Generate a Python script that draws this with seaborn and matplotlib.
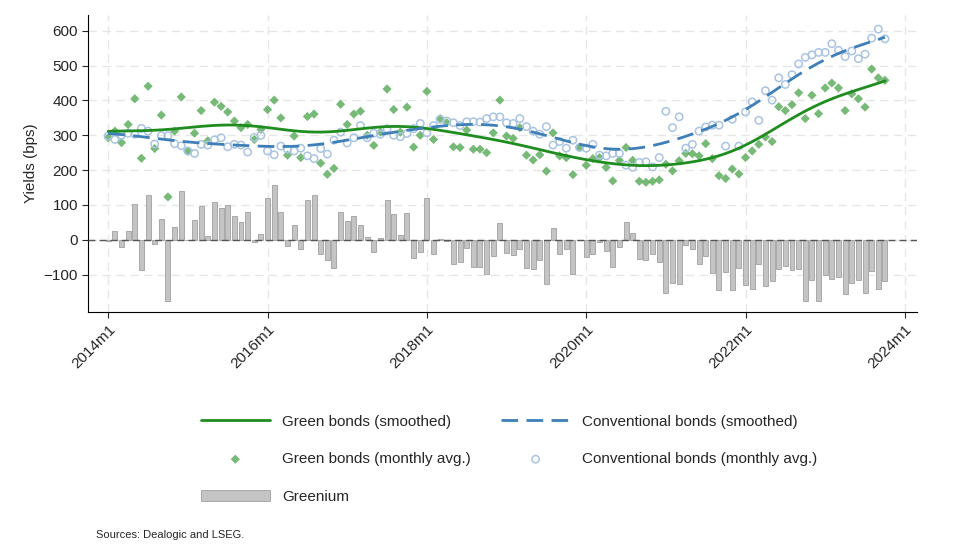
import matplotlib
matplotlib.use("Agg")
import matplotlib.pyplot as plt
import numpy as np
import pandas as pd
import seaborn as sns

# Monthly averages (bps), 2014m1 .. 2023m10
green = [293, 312, 279, 331, 405, 234, 441, 262, 358, 123, 312, 410, 254, 306, 371, 284,
         395, 383, 367, 341, 322, 331, 288, 317, 374, 401, 350, 243, 298, 236, 354, 361,
         220, 188, 205, 389, 331, 361, 369, 300, 271, 309, 433, 374, 309, 381, 266, 300,
         426, 288, 348, 336, 267, 265, 315, 260, 260, 250, 307, 401, 298, 291, 322, 243,
         229, 244, 197, 307, 241, 236, 187, 265, 214, 233, 236, 208, 169, 228, 265, 228,
         168, 165, 168, 172, 217, 198, 227, 248, 247, 241, 276, 233, 184, 176, 203, 189,
         236, 255, 274, 295, 282, 382, 371, 388, 422, 348, 415, 362, 436, 450, 436, 371,
         419, 405, 381, 490, 465, 458]
conventional = [298, 288, 300, 306, 303, 320, 312, 275, 299, 299, 276, 270, 255, 248, 274, 272,
                287, 293, 267, 274, 272, 252, 294, 300, 255, 244, 269, 260, 255, 263, 241, 233,
                262, 246, 286, 309, 278, 293, 328, 293, 306, 303, 319, 300, 296, 305, 319, 334,
                307, 328, 346, 341, 336, 328, 339, 339, 338, 348, 353, 353, 336, 334, 348, 325,
                312, 303, 325, 272, 282, 263, 286, 265, 263, 274, 243, 241, 248, 248, 214, 208,
                222, 224, 209, 236, 369, 322, 353, 263, 274, 312, 324, 329, 329, 269, 346, 269,
                367, 396, 343, 428, 401, 465, 446, 474, 505, 524, 531, 538, 538, 563, 544, 526,
                542, 520, 533, 579, 605, 577]
tick_pos = [0, 24, 48, 72, 96, 120]
tick_labels = ["2014m1", "2016m1", "2018m1", "2020m1", "2022m1", "2024m1"]

df = pd.DataFrame({"month": np.arange(len(green)), "green": green, "conv": conventional})
df["greenium"] = df["green"] - df["conv"]


def smooth(x, y, bw=6.5):
    # local linear regression with gaussian weights
    out = []
    for x0 in x:
        w = np.exp(-0.5 * ((x - x0) / bw) ** 2)
        X = np.column_stack([np.ones_like(x), x - x0])
        beta = np.linalg.lstsq(X * np.sqrt(w)[:, None], y * np.sqrt(w), rcond=None)[0]
        out.append(beta[0])
    return np.array(out)


xs = df["month"].to_numpy(float)
df["green_s"] = smooth(xs, df["green"].to_numpy(float))
df["conv_s"] = smooth(xs, df["conv"].to_numpy(float))

sns.set_style("white")
plt.rcParams["font.family"] = ["Arial", "Liberation Sans", "DejaVu Sans"]

fig = plt.figure(figsize=(9.6, 5.49), dpi=100)
ax = fig.add_axes([0.092, 0.432, 0.863, 0.541])

ax.bar(df["month"], df["greenium"], width=0.75, color="#c4c4c4", edgecolor="#a0a0a0",
       linewidth=0.6, label="Greenium", zorder=2)
ax.axhline(0, color="#555555", linestyle=(0, (5, 3)), linewidth=1, zorder=3)
sns.scatterplot(data=df, x="month", y="green", ax=ax, marker="D", s=22, color="#5fae5f",
                edgecolor="none", alpha=0.85, label="Green bonds (monthly avg.)", zorder=4)
sns.scatterplot(data=df, x="month", y="conv", ax=ax, marker="o", s=28, facecolor="none",
                edgecolor="#a9c4e2", linewidth=1.1, label="Conventional bonds (monthly avg.)", zorder=4)
sns.lineplot(data=df, x="month", y="green_s", ax=ax, color="#1e8c1e", linewidth=2,
             label="Green bonds (smoothed)", zorder=5)
sns.lineplot(data=df, x="month", y="conv_s", ax=ax, color="#3f7fb8", linewidth=2,
             linestyle=(0, (6, 3)), label="Conventional bonds (smoothed)", zorder=5)

ax.set_xlim(-3, 121.8)
ax.set_ylim(-207, 646)
ax.set_yticks(range(-100, 601, 100))
ax.set_xticks(tick_pos)
ax.set_xticklabels(tick_labels, rotation=45, ha="right", rotation_mode="anchor")
ax.tick_params(axis="both", labelsize=11, length=4, direction="out", left=True, bottom=True)
ax.grid(True, color="#e6e6e6", linestyle=(0, (6, 4)), linewidth=1)
ax.set_axisbelow(True)
for s in ["top", "right"]:
    ax.spines[s].set_visible(False)
for s in ["left", "bottom"]:
    ax.spines[s].set_color("black")
ax.set_xlabel("")
ax.set_ylabel("Yields (bps)", fontsize=11)

h, l = ax.get_legend_handles_labels()
order = ["Green bonds (smoothed)", "Green bonds (monthly avg.)", "Greenium",
         "Conventional bonds (smoothed)", "Conventional bonds (monthly avg.)"]
hh = [h[l.index(o)] for o in order]
ax.get_legend().remove()
fig.legend(hh, order, loc="upper left", bbox_to_anchor=(0.195, 0.27), ncol=2, frameon=False,
           fontsize=11, columnspacing=2.0, handlelength=4.5, labelspacing=1.55)
fig.text(0.1, 0.02, "Sources: Dealogic and LSEG.", fontsize=8)

fig.savefig("out.png", dpi=100)
